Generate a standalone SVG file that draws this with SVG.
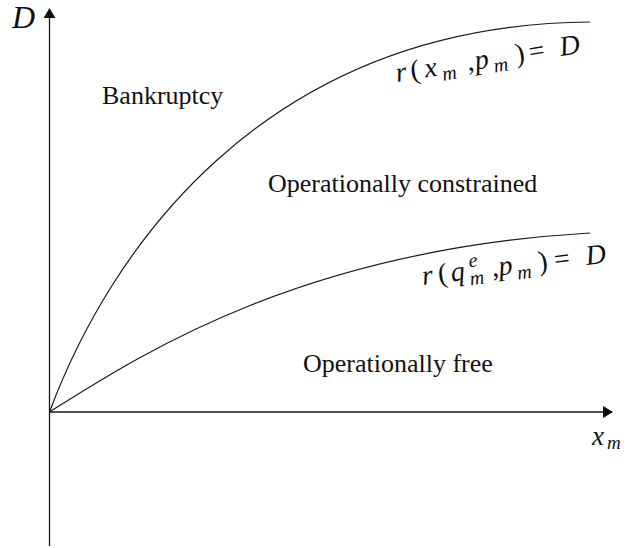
<svg xmlns="http://www.w3.org/2000/svg" width="630" height="548" viewBox="0 0 630 548">
<defs>
<style>
.ax{stroke:#1a1a1a;stroke-width:1.3;fill:none}
.cv{stroke:#1a1a1a;stroke-width:1.2;fill:none}
text{font-family:"Liberation Serif",Tinos,"Times New Roman",Times,"Nimbus Roman","FreeSerif",serif;fill:#111}
.txt{font-size:26px}
.m{font-style:italic}
.u{font-style:normal}
</style>
<marker id="ah" viewBox="0 0 10 12" refX="9" refY="6" markerWidth="10" markerHeight="12" markerUnits="userSpaceOnUse" orient="auto">
<path d="M0,0 L10,6 L0,12 Z" fill="#111"/>
</marker>
</defs>
<g id="axes">
<line class="ax" x1="49.5" y1="546" x2="49.5" y2="9" marker-end="url(#ah)"/>
<line class="ax" x1="49.5" y1="412" x2="612" y2="412" marker-end="url(#ah)"/>
<text class="m" x="12" y="28" font-size="32">D</text>
<text class="m" x="592" y="445" font-size="27">x<tspan x="607" y="449" font-size="19">m</tspan></text>
</g>
<g id="connectors">
<path id="upper" class="cv" d="M49.5,412 C108,255 260,25 590,22"/>
<path id="lower" class="cv" d="M49.5,412 C140,355 300,250 590,233"/>
</g>
<g id="label-upper" transform="translate(397,82) rotate(-9)">
<text class="m" font-size="28"><tspan x="0" y="0">r</tspan><tspan class="u" x="15" y="0">(</tspan><tspan x="29" y="0">x</tspan><tspan x="46" y="6" font-size="20">m</tspan><tspan class="u" x="72" y="0">,</tspan><tspan x="80" y="0">p</tspan><tspan x="98" y="6" font-size="20">m</tspan><tspan class="u" x="121" y="0">)</tspan><tspan class="u" x="135" y="0">=</tspan><tspan x="166" y="0">D</tspan></text>
</g>
<g id="label-lower" transform="translate(423,285) rotate(-7)">
<text class="m" font-size="28"><tspan x="0" y="0">r</tspan><tspan class="u" x="16" y="0">(</tspan><tspan x="29" y="0">q</tspan><tspan x="48" y="-12" font-size="20">e</tspan><tspan x="47" y="6" font-size="20">m</tspan><tspan class="u" x="70" y="0">,</tspan><tspan x="77" y="0">p</tspan><tspan x="95" y="6" font-size="20">m</tspan><tspan class="u" x="117" y="0">)</tspan><tspan class="u" x="133" y="0">=</tspan><tspan x="165" y="0">D</tspan></text>
</g>
<g id="bankruptcy"><text class="txt" x="102" y="104">Bankruptcy</text></g>
<g id="constrained"><text class="txt" x="268" y="192">Operationally constrained</text></g>
<g id="free"><text class="txt" x="303" y="372">Operationally free</text></g>
</svg>
